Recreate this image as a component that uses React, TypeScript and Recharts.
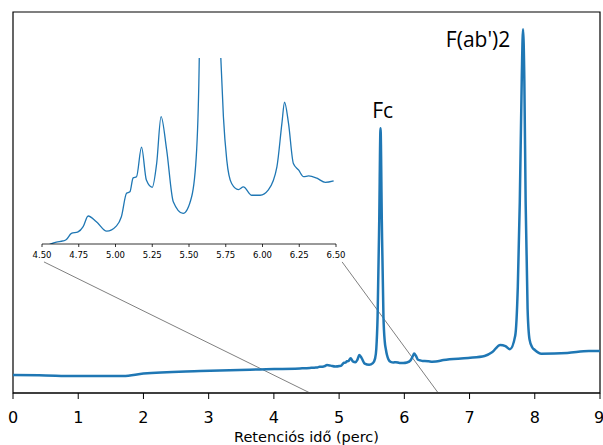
import React from 'react';
import { LineChart, Line, XAxis, YAxis, ReferenceLine, ReferenceArea, ReferenceDot } from 'recharts';

// Retention time (min)
const timeMin = [0, 0.5, 0.92, 1.69, 2.0, 2.87, 3.79, 4.4, 4.552, 4.598, 4.643, 4.666, 4.70, 4.745, 4.78, 4.814, 4.87, 4.94, 5.007, 5.04, 5.075, 5.098, 5.12, 5.143, 5.177, 5.21, 5.25, 5.28, 5.31, 5.348, 5.393, 5.46, 5.518, 5.552, 5.57, 5.59, 5.615, 5.635, 5.655, 5.68, 5.70, 5.716, 5.734, 5.757, 5.79, 5.836, 5.87, 5.927, 5.984, 6.04, 6.098, 6.132, 6.15, 6.177, 6.21, 6.245, 6.28, 6.314, 6.37, 6.427, 6.484, 6.6, 6.98, 7.23, 7.35, 7.47, 7.55, 7.62, 7.70, 7.74, 7.77, 7.80, 7.82, 7.84, 7.86, 7.89, 7.92, 7.96, 8.0, 8.1, 8.5, 8.83, 9.0];
// Detector signal (arbitrary units)
const signal = [4.72, 4.6, 4.46, 4.46, 5.1, 5.77, 6.2, 6.45, 6.58, 6.64, 6.67, 6.71, 6.87, 6.91, 7.05, 7.33, 7.18, 6.93, 7.07, 7.31, 7.93, 7.97, 8.34, 8.37, 9.15, 8.28, 8.09, 8.72, 9.96, 9.08, 7.71, 7.40, 7.84, 9.08, 11.55, 20, 45, 69.5, 45, 20, 13.5, 11.55, 9.96, 8.81, 8.19, 8.03, 8.10, 7.88, 7.88, 8.02, 8.63, 9.78, 10.34, 9.78, 8.72, 8.55, 8.37, 8.39, 8.33, 8.22, 8.26, 8.66, 9.19, 9.71, 10.76, 12.6, 12.3, 11.5, 15, 28, 50, 82, 95.5, 82, 50, 22, 14, 12, 11.3, 10.3, 10.5, 11.0, 11.0];

const mainTicks = [0, 1, 2, 3, 4, 5, 6, 7, 8, 9];
const insetTicks = [4.5, 4.75, 5.0, 5.25, 5.5, 5.75, 6.0, 6.25, 6.5];
const mainDomainY = [0, 100];
const insetDomainX = [4.5, 6.5];
const insetDomainY = [6.59, 11.51];

const peakLabels = [
  { name: 'Fc', t: 5.667, v: 72.2 },
  { name: "F(ab')2", t: 7.13, v: 90.8 },
];

const connectors = [
  [{ x: 0.475, y: 34.4 }, { x: 4.555, y: 0 }],
  [{ x: 5.046, y: 34.4 }, { x: 6.52, y: 0 }],
];

const data = timeMin.map((t, i) => ({ t, v: signal[i] }));
const insetData = data.filter((d) => d.t >= insetDomainX[0] && d.t <= insetDomainX[1]);

const BLUE = '#1f77b4';
const FONT = 'DejaVu Sans';

export default function App() {
  return (
    <div style={{ position: 'absolute', left: 0, top: 0, width: 603, height: 445, background: '#fff', overflow: 'hidden' }}>
      <div style={{ position: 'absolute', left: 0, top: 0 }}>
        <LineChart width={603} height={445} data={data} margin={{ top: 12, right: 3, left: 13, bottom: 0 }}>
          <XAxis
            dataKey="t"
            type="number"
            domain={[0, 9]}
            ticks={mainTicks}
            allowDataOverflow
            height={52}
            tickSize={6}
            tickMargin={13}
            axisLine={{ stroke: '#000', strokeWidth: 1.2 }}
            tickLine={{ stroke: '#000', strokeWidth: 1 }}
            tick={{ fill: '#000', fontSize: 16, fontFamily: FONT }}
            label={{
              content: (props: any) => {
                const vb = props.viewBox || { x: 13, y: 393, width: 587 };
                return (
                  <text x={vb.x + vb.width / 2} y={vb.y + 48.5} textAnchor="middle" fontSize={14.5} fontFamily={FONT} fill="#000">
                    Retenciós idő (perc)
                  </text>
                );
              },
            }}
          />
          <YAxis hide width={0} domain={mainDomainY} allowDataOverflow />
          <ReferenceArea x1={0} x2={9} y1={0} y2={100} fill="none" fillOpacity={0} stroke="#000" strokeWidth={1.2} ifOverflow="visible" />
          {connectors.map((seg, i) => (
            <ReferenceLine key={i} segment={seg} stroke="#808080" strokeWidth={1} ifOverflow="visible" />
          ))}
          <Line type="monotone" dataKey="v" stroke={BLUE} strokeWidth={2.5} dot={false} isAnimationActive={false} />
          {peakLabels.map((p) => (
            <ReferenceDot
              key={p.name}
              x={p.t}
              y={p.v}
              r={0}
              ifOverflow="visible"
              shape={(props: any) => (
                <text x={props.cx} y={props.cy} textAnchor="middle" fontSize={21} fontFamily="Open Sans" fill="#000">
                  {p.name}
                </text>
              )}
            />
          ))}
        </LineChart>
      </div>
      <div style={{ position: 'absolute', left: 0, top: 0 }}>
        <LineChart width={603} height={445} data={insetData} margin={{ top: 58, right: 267, left: 42, bottom: 0 }}>
          <XAxis
            dataKey="t"
            type="number"
            domain={insetDomainX}
            ticks={insetTicks}
            allowDataOverflow
            height={201}
            tickSize={3}
            tickMargin={5}
            tickFormatter={(v: number) => v.toFixed(2)}
            axisLine={{ stroke: '#000', strokeWidth: 0.8 }}
            tickLine={{ stroke: '#000', strokeWidth: 0.8 }}
            tick={{ fill: '#000', fontSize: 8.5, fontFamily: FONT }}
          />
          <YAxis hide width={0} domain={insetDomainY} allowDataOverflow />
          <Line type="monotone" dataKey="v" stroke={BLUE} strokeWidth={1.3} dot={false} isAnimationActive={false} />
        </LineChart>
      </div>
    </div>
  );
}
